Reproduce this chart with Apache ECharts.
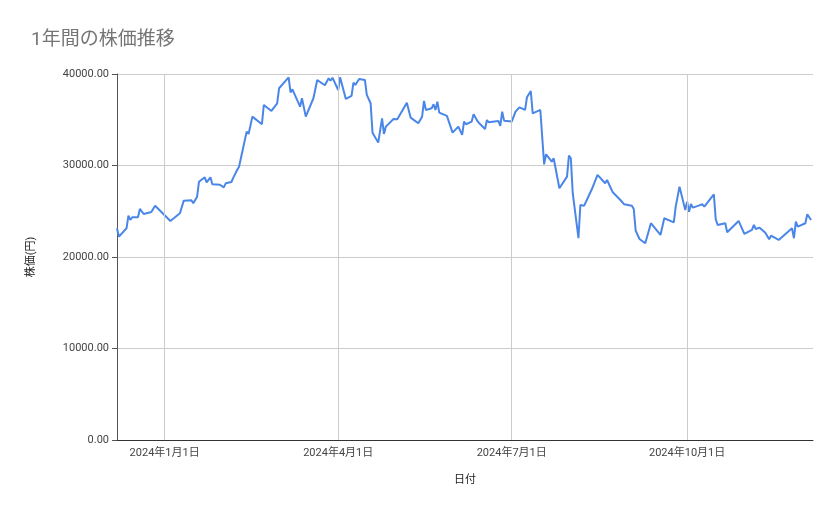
<!doctype html>
<html lang="ja">
<head>
<meta charset="UTF-8">
<script src="https://cdn.jsdelivr.net/npm/echarts@6/dist/echarts.min.js"></script>
<style>html,body{margin:0;padding:0;background:#fff}#main{width:839px;height:519px}</style>
</head>
<body>
<div id="main"></div>
<script>
// 日付と株価（図から読み取った概算値）
var dates = ['2023-12-07','2023-12-08','2023-12-12','2023-12-13','2023-12-14','2023-12-15','2023-12-18','2023-12-19','2023-12-20','2023-12-21','2023-12-22','2023-12-25','2023-12-27',
 '2024-01-04','2024-01-09','2024-01-11','2024-01-15','2024-01-16','2024-01-18','2024-01-19','2024-01-22','2024-01-23','2024-01-25','2024-01-26','2024-01-30',
 '2024-02-01','2024-02-02','2024-02-05','2024-02-06','2024-02-07','2024-02-08','2024-02-09','2024-02-13','2024-02-14','2024-02-16','2024-02-21','2024-02-22','2024-02-26','2024-02-29',
 '2024-03-01','2024-03-06','2024-03-07','2024-03-08','2024-03-12','2024-03-13','2024-03-14','2024-03-15','2024-03-19','2024-03-21','2024-03-25','2024-03-27','2024-03-28','2024-03-29',
 '2024-04-01','2024-04-02','2024-04-03','2024-04-05','2024-04-08','2024-04-09','2024-04-10','2024-04-12','2024-04-15','2024-04-16','2024-04-18','2024-04-19','2024-04-22','2024-04-23','2024-04-24','2024-04-25','2024-04-26','2024-04-30',
 '2024-05-01','2024-05-02','2024-05-07','2024-05-09','2024-05-13','2024-05-15','2024-05-16','2024-05-17','2024-05-20','2024-05-21','2024-05-22','2024-05-23','2024-05-24','2024-05-28','2024-05-31',
 '2024-06-03','2024-06-05','2024-06-06','2024-06-07','2024-06-10','2024-06-11','2024-06-12','2024-06-13','2024-06-14','2024-06-17','2024-06-18','2024-06-19','2024-06-24','2024-06-25','2024-06-26','2024-06-27',
 '2024-07-01','2024-07-03','2024-07-04','2024-07-05','2024-07-08','2024-07-09','2024-07-11','2024-07-12','2024-07-16','2024-07-18','2024-07-19','2024-07-22','2024-07-23','2024-07-24','2024-07-26','2024-07-30','2024-07-31',
 '2024-08-01','2024-08-02','2024-08-05','2024-08-06','2024-08-08','2024-08-12','2024-08-13','2024-08-15','2024-08-19','2024-08-20','2024-08-23','2024-08-27','2024-08-29',
 '2024-09-02','2024-09-03','2024-09-04','2024-09-06','2024-09-09','2024-09-10','2024-09-11','2024-09-12','2024-09-17','2024-09-18','2024-09-19','2024-09-24','2024-09-25','2024-09-27','2024-09-30',
 '2024-10-01','2024-10-02','2024-10-03','2024-10-04','2024-10-07','2024-10-08','2024-10-09','2024-10-10','2024-10-15','2024-10-16','2024-10-17','2024-10-21','2024-10-22','2024-10-28','2024-10-29','2024-10-31',
 '2024-11-04','2024-11-05','2024-11-06','2024-11-08','2024-11-11','2024-11-12','2024-11-13','2024-11-14','2024-11-18','2024-11-19','2024-11-25','2024-11-26','2024-11-27','2024-11-28',
 '2024-12-02','2024-12-03','2024-12-04','2024-12-05'];
var prices = [23140,22220,23140,24520,24050,24340,24340,25250,25170,24700,24850,24920,25610,
 23940,24780,26160,26200,25870,26590,28230,28710,28160,28710,27950,27900,
 27610,28050,28200,28670,28490,29510,29870,33700,33450,35340,34510,36620,35960,36800,
 38440,39640,37990,38320,36430,37350,37350,35340,37350,39350,38770,39530,39270,39600,
 38250,39640,39530,37270,37600,39060,38800,39460,39350,37710,36800,33590,32500,32430,35160,33450,34250,35090,
 34900,35050,36870,35230,34610,35340,37050,36070,36250,36690,36070,36980,35780,35420,33590,
 34250,33340,34800,34510,34800,35610,35530,34870,34610,33990,34970,34720,34870,34320,35880,34900,
 34800,35880,35810,36360,36070,37460,38140,35700,36070,30130,31230,30420,30790,30610,27510,28780,31080,
 30790,26970,22050,25690,25610,27400,27220,28970,28060,28420,27070,26230,25760,
 25610,25250,22880,21970,21500,22220,22150,23690,22410,22590,24230,23790,25500,27690,25140,
 26050,24950,25790,25390,25610,25430,25760,25500,26850,24120,23500,23690,22700,23940,23940,22520,
 22960,23500,23060,23210,22660,22850,21940,22330,21860,21750,23140,22050,23860,23310,
 23690,24670,24590,24050];
var labelDates = ['2024-01-01','2024-04-01','2024-07-01','2024-10-01'];

function ts(d) { return +new Date(d + 'T00:00:00'); }

var data = [];
for (var i = 0; i < dates.length; i++) {
    data.push([ts(dates[i]), prices[i]]);
}
var labelTimes = labelDates.map(ts);

var myChart = echarts.init(document.getElementById('main'));
var font = 'Roboto, "Noto Sans CJK JP", sans-serif';
option = {
    animation: false,
    title: {
        text: '1年間の株価推移',
        left: 26, top: 26,
        textStyle: { color: '#757575', fontSize: 19, fontWeight: 'normal', fontFamily: font }
    },
    grid: { left: 117, right: 26, top: 74, bottom: 79 },
    xAxis: {
        type: 'value',
        min: ts('2023-12-07'),
        max: ts('2024-12-06'),
        name: '日付',
        nameLocation: 'middle',
        nameGap: 35,
        nameTextStyle: { color: '#222', fontSize: 11, fontFamily: font },
        axisLine: { lineStyle: { color: '#333' } },
        axisTick: { show: false },
        axisLabel: {
            customValues: labelTimes,
            color: '#444', fontSize: 11, fontFamily: font,
            formatter: function (v) {
                var d = new Date(v);
                return d.getFullYear() + '年' + (d.getMonth() + 1) + '月' + d.getDate() + '日';
            }
        },
        splitLine: { show: false }
    },
    yAxis: {
        type: 'value',
        min: 0, max: 40000, interval: 10000,
        name: '株価(円)',
        nameLocation: 'middle',
        nameGap: 80,
        nameTextStyle: { color: '#222', fontSize: 11, fontFamily: font },
        axisLabel: {
            color: '#444', fontSize: 11, fontFamily: font,
            formatter: function (v) { return v.toFixed(2); }
        },
        splitLine: { lineStyle: { color: '#ccc' } }
    },
    series: [{
        type: 'line',
        data: data,
        showSymbol: false,
        lineStyle: { color: '#4a86e8', width: 2 },
        z: 3,
        markLine: {
            silent: true,
            symbol: 'none',
            label: { show: false },
            lineStyle: { color: '#ccc', type: 'solid', width: 1 },
            data: labelTimes.map(function (t) { return { xAxis: t }; })
        }
    }]
};
myChart.setOption(option);
</script>
</body>
</html>
